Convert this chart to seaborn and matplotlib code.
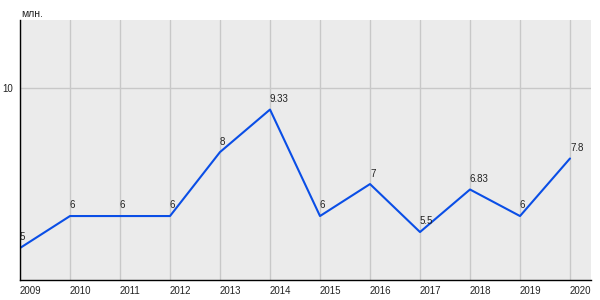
import matplotlib
matplotlib.use("Agg")
import matplotlib.pyplot as plt
import seaborn as sns
import pandas as pd

years = [2009, 2010, 2011, 2012, 2013, 2014, 2015, 2016, 2017, 2018, 2019, 2020]
values = [5, 6, 6, 6, 8, 9.33, 6, 7, 5.5, 6.83, 6, 7.8]
labels = ["5", "6", "6", "6", "8", "9.33", "6", "7", "5.5", "6.83", "6", "7.8"]
y_ticks = [10]
y_unit = "млн."

sns.set_style("white")
plt.rcParams['font.family'] = ['Liberation Sans', 'DejaVu Sans']

df = pd.DataFrame({"year": years, "value": values})

fig = plt.figure(figsize=(6, 3), dpi=100)
ax = fig.add_axes([20/600, 20/300, 571/600, 260/300])
ax.set_facecolor("#ebebeb")

sns.lineplot(data=df, x="year", y="value", ax=ax, color="#0a4ee6", linewidth=1.5)

for x, y, t in zip(years, values, labels):
    ax.annotate(t, (x, y), xytext=(0, 4), textcoords="offset points",
                ha="left", va="bottom", fontsize=7, color="#222222")

ax.set_xlim(2009, 2020.42)
ax.set_ylim(4, 12.13)
ax.set_xticks(years)
ax.set_xticklabels([str(y) for y in years], fontsize=7, color="#222222", ha="left")
ax.set_yticks(y_ticks)
ax.set_yticklabels([str(t) for t in y_ticks], fontsize=7, color="#222222")
ax.tick_params(axis="x", length=0, pad=4)
ax.tick_params(axis="y", length=3, width=0.8, color="black", pad=2)
ax.grid(True, color="#c8c8c8", linewidth=1)
ax.set_axisbelow(True)
ax.set_xlabel("")
ax.set_ylabel("")
for s in ["top", "right"]:
    ax.spines[s].set_visible(False)
for s in ["left", "bottom"]:
    ax.spines[s].set_color("black")
    ax.spines[s].set_linewidth(1)

fig.text(21/600, 1 - 14/300, y_unit, fontsize=7.5, color="#222222", va="center", ha="left")

fig.savefig("out.png", dpi=100, facecolor="white")
